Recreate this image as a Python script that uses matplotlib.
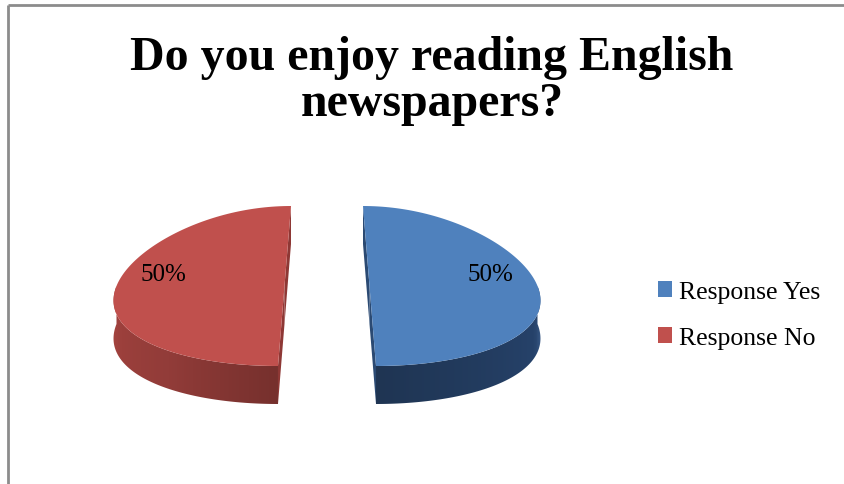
import numpy as np
import matplotlib.pyplot as plt
from matplotlib.patches import Polygon, Patch
from matplotlib.colors import to_rgb

# data
labels = ['Response Yes', 'Response No']
values = [50, 50]
top_colors = ['#4F81BD', '#C0504D']
title_lines = ['Do you enjoy reading English', 'newspapers?']

# side shading stops (position along visible rim, colour)
side_stops = [
    [(0.0, '#3F618F'), (0.3, '#26426A'), (1.0, '#1F3553')],
    [(0.0, '#A6443F'), (0.6, '#923C39'), (1.0, '#76302D')],
]
cut_colors = ['#2B4A73', '#8E3835']

plt.rcParams['font.family'] = ['Liberation Serif', 'DejaVu Serif']

W, H = 844, 485
fig = plt.figure(figsize=(W / 100, H / 100), dpi=100)
ax = fig.add_axes([0, 0, 1, 1])
ax.set_xlim(0, W)
ax.set_ylim(H, 0)
ax.axis('off')

# fake 3d: pie centre, radii, depth, perspective factor, explode
cx, cy = 327, 287
a, b, h = 168, 80, 38
k = 0.153
explode = 0.253


def project(u, v, z=0.0):
    s = 1 + k * v
    return cx + u * a * s, cy + v * b + z


def shade(stops, t):
    pos = [p for p, _ in stops]
    cols = np.array([to_rgb(c) for _, c in stops])
    return np.stack([np.interp(t, pos, cols[:, i]) for i in range(3)], axis=-1)


total = float(sum(values))
starts = np.concatenate([[0], np.cumsum(values)[:-1]]) / total * 360
ends = np.cumsum(values) / total * 360

for i, (t1, t2) in enumerate(zip(starts, ends)):
    mid = np.radians((t1 + t2) / 2)
    du, dv = explode * np.sin(mid), -explode * np.cos(mid)

    def pt(theta, r=1.0, z=0.0):
        th = np.radians(theta)
        return project(r * np.sin(th) + du, -r * np.cos(th) + dv, z)

    # cut faces
    for edge in (t1, t2):
        quad = [pt(edge, 0), pt(edge, 1), pt(edge, 1, h), pt(edge, 0, h)]
        ax.add_patch(Polygon(quad, closed=True, fc=cut_colors[i], ec='none', zorder=1))

    # outer rim (front half only) with a horizontal gradient
    lo, hi = max(t1, 90), min(t2, 270)
    if hi > lo:
        th = np.linspace(lo, hi, 100)
        upper = [pt(t) for t in th]
        lower = [pt(t, 1, h) for t in th[::-1]]
        rim = Polygon(upper + lower, closed=True, fc='none', ec='none', zorder=2)
        ax.add_patch(rim)
        xs = np.array([p[0] for p in upper])
        tt = (th - lo) / (hi - lo)
        if i == 1:
            tt = 1 - tt
        order = np.argsort(xs)
        x0, x1 = xs.min() - 2, xs.max() + 2
        y0 = min(p[1] for p in upper) - 2
        y1 = max(p[1] for p in lower) + 2
        gx = np.linspace(x0, x1, 400)
        grad = shade(side_stops[i], np.interp(gx, xs[order], tt[order]))
        img = ax.imshow(np.repeat(grad[None, :, :], 2, axis=0), extent=(x0, x1, y1, y0),
                        aspect='auto', interpolation='bilinear', zorder=2)
        img.set_clip_path(rim)

    arc = np.linspace(t1, t2, 120)
    poly = [pt(0, 0)] + [pt(t) for t in arc]
    ax.add_patch(Polygon(poly, closed=True, fc=top_colors[i], ec='none', zorder=3))

    # percentage label
    lx, ly = pt(np.degrees(mid), 0.72)
    ax.text(lx, ly - 12, f'{values[i] / total:.0%}', ha='center', va='center',
            fontsize=18, color='black', zorder=5)

ax.set_xlim(0, W)
ax.set_ylim(H, 0)

# title
ax.text(432, 70, title_lines[0], ha='center', va='baseline', fontsize=34.5,
        fontweight='bold')
ax.text(432, 116, title_lines[1], ha='center', va='baseline', fontsize=34.5,
        fontweight='bold')

# legend
handles = [Patch(fc=c, ec='none') for c in top_colors]
ax.legend(handles, labels, loc='center left', bbox_to_anchor=(658 / W, 1 - 316 / H),
          frameon=False, fontsize=18.5, handlelength=0.56, handleheight=0.56,
          handletextpad=0.25, labelspacing=0.95, borderpad=0, borderaxespad=0)

# chart border (top and left visible)
ax.plot([8, W], [5.5, 5.5], color='#8C8C8C', lw=2, solid_capstyle='butt')
ax.plot([8, 8], [5.5, H], color='#8C8C8C', lw=2, solid_capstyle='butt')

fig.savefig('out.png', dpi=100)
